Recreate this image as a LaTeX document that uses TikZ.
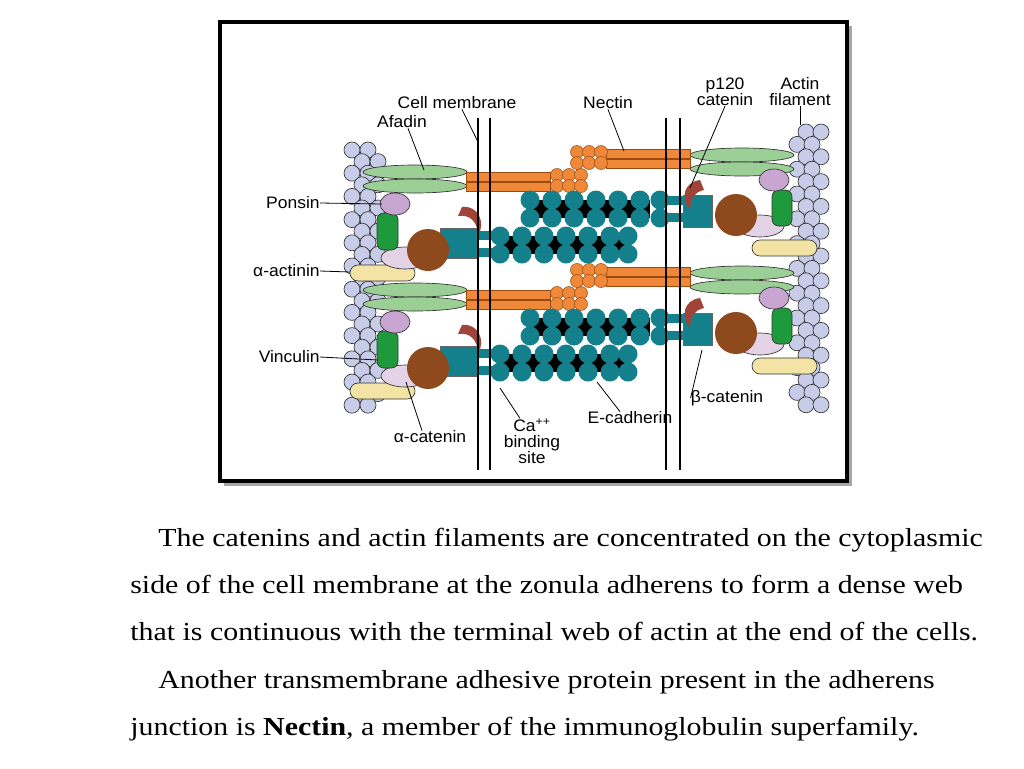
\documentclass[tikz,border=0pt]{standalone}
\usepackage{fontspec}
\setmainfont{Liberation Serif}
\newfontfamily\lblfont{Liberation Sans}
\usetikzlibrary{shapes.geometric}
\definecolor{teal1}{HTML}{14808C}
\definecolor{org}{HTML}{F0883A}
\definecolor{orgd}{HTML}{9A4A10}
\definecolor{grn}{HTML}{9CCF96}
\definecolor{dgrn}{HTML}{1E9A3C}
\definecolor{brn}{HTML}{8E4A1C}
\definecolor{crs}{HTML}{A0443A}
\definecolor{pur}{HTML}{C9A6D2}
\definecolor{pink}{HTML}{E4D2E6}
\definecolor{yel}{HTML}{F3E3A4}
\definecolor{act}{HTML}{C7CCE8}
\tikzset{
 lbl/.style={font=\lblfont\fontsize{12.5}{12}\selectfont, inner sep=0pt, align=center, xscale=1.05},
 lead/.style={draw=black, line width=0.6pt},
 ol/.style={draw=black!80, line width=0.5pt},
 captxt/.style={anchor=base west, inner sep=0pt, font=\fontsize{19.5}{20}\selectfont, xscale=1.15},
}
\newcommand\myunit[1]{%
\begin{scope}[shift={(0,#1)}]
 \fill[grn,ol] (415,172) ellipse (52 and 7);
 \fill[grn,ol] (415,186) ellipse (52 and 7);
 \fill[grn,ol] (742,155) ellipse (52 and 7);
 \fill[grn,ol] (742,169) ellipse (52 and 7);
 \fill[org,draw=orgd] (466,172) rectangle (550,181);
 \fill[org,draw=orgd] (466,182) rectangle (550,191);
 \foreach \i in {0,1,2}\foreach \j in {0,1}{\fill[org,draw=orgd] (557+\i*12,175+\j*11) circle (6.5);}
 \fill[org,draw=orgd] (606,149) rectangle (690,158);
 \fill[org,draw=orgd] (606,159) rectangle (690,168);
 \foreach \i in {0,1,2}\foreach \j in {0,1}{\fill[org,draw=orgd] (577+\i*12,152+\j*11) circle (6.5);}
 \fill[black] (530,200) rectangle (650,218);
 \fill[black] (503,236) rectangle (625,254);
 \foreach \x in {530,552,574,596,618,640,660}{\fill[teal1] (\x,200) circle (9.5); \fill[teal1] (\x,218) circle (9.5);}
 \foreach \x in {500,522,544,566,588,610,628}{\fill[teal1] (\x,236) circle (9.5); \fill[teal1] (\x,254) circle (9.5);}
 \fill[teal1] (478,231) rectangle (500,240);
 \fill[teal1] (478,248) rectangle (500,257);
 \fill[teal1,draw=black!60] (440,228) rectangle (478,258);
 \fill[teal1] (660,196) rectangle (684,205);
 \fill[teal1] (660,213) rectangle (684,222);
 \fill[teal1,draw=black!60] (683,195) rectangle (712,227);
 \fill[crs] (462,207) .. controls (478,205) and (486,222) .. (478,236) .. controls (478,222) and (470,214) .. (458,216) -- cycle;
 \fill[crs] (700,180) .. controls (684,182) and (680,198) .. (690,210) .. controls (690,200) and (694,192) .. (704,190) -- cycle;
 \fill[yel,ol,rounded corners=6] (350,265) rectangle (415,281);
 \fill[pink,ol] (405,258) ellipse (24 and 11);
 \fill[brn] (428,250) circle (21);
 \fill[dgrn,ol,rounded corners=5] (377,213) rectangle (398,250);
 \fill[pur,ol] (395,204) ellipse (15 and 11);
 \fill[yel,ol,rounded corners=6] (752,240) rectangle (817,256);
 \fill[pink,ol] (760,226) ellipse (24 and 11);
 \fill[brn] (736,215) circle (21);
 \fill[dgrn,ol,rounded corners=5] (772,190) rectangle (792,226);
 \fill[pur,ol] (774,180) ellipse (15 and 11);
\end{scope}}
\begin{document}
\begin{tikzpicture}[x=0.75pt,y=-0.75pt]
\useasboundingbox (0,0) rectangle (1024,768);
\fill[white] (0,0) rectangle (1024,768);
\fill[black!35] (224,26) rectangle (852,486);
\fill[white,draw=black,line width=2.4pt] (220,22) rectangle (847,481);
\foreach \k in {0,...,22}{
 \pgfmathsetmacro\xx{352+mod(\k,2)*10}
 \fill[act,ol] (\xx,150+\k*11.6) circle (8);
 \fill[act,ol] (\xx+16,150+\k*11.6) circle (8);
 \pgfmathsetmacro\xr{797+mod(\k+1,2)*9}
 \fill[act,ol] (\xr,132+\k*12.4) circle (8);
 \fill[act,ol] (\xr+15,132+\k*12.4) circle (8);
}
\myunit{0}
\myunit{118}
\foreach \x in {478,490,666,680}{\draw[line width=1pt] (\x,118) -- (\x,470);}
\node[lbl] (cm) at (457,103) {Cell membrane};
\node[lbl] (af) at (402,122) {Afadin};
\node[lbl] (ne) at (608,103) {Nectin};
\node[lbl] (p1) at (725,92) {p120\\catenin};
\node[lbl] (af2) at (800,92) {Actin\\filament};
\node[lbl,anchor=east] (po) at (320,203) {Ponsin};
\node[lbl,anchor=east] (aa) at (320,271) {α-actinin};
\node[lbl,anchor=east] (vi) at (320,357) {Vinculin};
\node[lbl] (ac) at (430,437) {α-catenin};
\node[lbl] (ca) at (532,441) {Ca\textsuperscript{++}\\binding\\site};
\node[lbl] (ec) at (630,418) {E-cadherin};
\node[lbl] (bc) at (727,398) {β-catenin};
\coordinate (t1) at (478,142); \coordinate (t2) at (424,170);
\coordinate (t3) at (624,151); \coordinate (t4) at (690,188);
\coordinate (t5) at (800,125); \coordinate (t6) at (382,204);
\coordinate (t7) at (350,272); \coordinate (t8) at (378,360);
\coordinate (t9) at (406,382); \coordinate (t10) at (500,388);
\coordinate (t11) at (597,382); \coordinate (t12) at (702,350);
\draw[lead] (cm.south)++(5,0) -- (t1);
\draw[lead] (af.south)++(6,0) -- (t2);
\draw[lead] (ne.south) -- (t3);
\draw[lead] (p1.south) -- (t4);
\draw[lead] (af2.south) -- (t5);
\draw[lead] (po.east) -- (t6);
\draw[lead] (aa.east) -- (t7);
\draw[lead] (vi.east) -- (t8);
\draw[lead] (ac.north)++(-8,0) -- (t9);
\draw[lead] (ca.north)++(-12,0) -- (t10);
\draw[lead] (ec.north)++(-10,0) -- (t11);
\draw[lead] (bc.west) -- (t12);
\node[captxt] (c1) at (158,546) {The catenins and actin filaments are concentrated on the cytoplasmic};
\node[captxt] (c2) at (130,593) {side of the cell membrane at the zonula adherens to form a dense web};
\node[captxt] (c3) at (130,640) {that is continuous with the terminal web of actin at the end of the cells.};
\node[captxt] (c4) at (158,688) {Another transmembrane adhesive protein present in the adherens};
\node[captxt] (c5) at (130,735) {junction is \textbf{Nectin}, a member of the immunoglobulin superfamily.};
\end{tikzpicture}
\end{document}
